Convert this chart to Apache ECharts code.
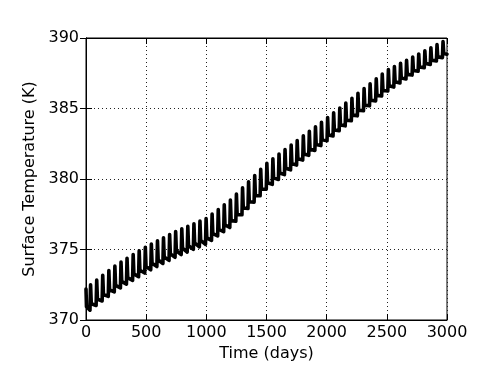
<!DOCTYPE html>
<html>
<head>
<meta charset="utf-8">
<script src="https://cdn.jsdelivr.net/npm/echarts@6/dist/echarts.min.js"></script>
<style>
html,body{margin:0;padding:0;background:#fff;}
#chart{width:498px;height:379px;}
</style>
</head>
<body>
<div id="chart"></div>
<script>
// ---- data ----
const xTicks = [0, 500, 1000, 1500, 2000, 2500, 3000];
const yTicks = [370, 375, 380, 385, 390];
const xTitle = "Time (days)";
const yTitle = "Surface Temperature (K)";

// start of the record (decaying from a previous peak)
const startDays = [0, 4];
const startTemps = [372.2, 370.95];

// day of each temperature spike
const peakDays = [38, 89, 139, 190, 240, 291, 341, 392, 442, 493,
  543, 594, 644, 695, 745, 796, 846, 897, 947, 998,
  1048, 1099, 1149, 1200, 1250, 1301, 1351, 1402, 1452, 1503,
  1553, 1604, 1654, 1705, 1755, 1806, 1856, 1907, 1957, 2008,
  2058, 2109, 2159, 2210, 2260, 2311, 2361, 2412, 2462, 2513,
  2563, 2614, 2664, 2715, 2765, 2816, 2866, 2917, 2967];
// spike maxima (K)
const peakTemps = [372.50, 372.84, 373.17, 373.50, 373.83, 374.11, 374.37, 374.64, 374.90, 375.16,
  375.39, 375.61, 375.83, 376.06, 376.28, 376.47, 376.65, 376.83, 377.01, 377.19,
  377.51, 377.84, 378.17, 378.50, 378.93, 379.38, 379.81, 380.25, 380.69, 381.12,
  381.44, 381.77, 382.09, 382.41, 382.73, 383.06, 383.38, 383.70, 384.02, 384.35,
  384.69, 385.04, 385.38, 385.73, 386.07, 386.41, 386.75, 387.10, 387.44, 387.76,
  387.98, 388.20, 388.42, 388.65, 388.87, 389.09, 389.31, 389.53, 389.75];
// minima just before each spike (K)
const minTemps = [370.70, 371.03, 371.35, 371.68, 372.00, 372.28, 372.54, 372.81, 373.07, 373.33,
  373.56, 373.79, 374.01, 374.23, 374.45, 374.64, 374.82, 375.01, 375.19, 375.37,
  375.65, 375.96, 376.26, 376.56, 377.00, 377.46, 377.91, 378.36, 378.81, 379.27,
  379.62, 379.97, 380.31, 380.65, 380.99, 381.34, 381.68, 382.03, 382.37, 382.71,
  383.06, 383.42, 383.77, 384.13, 384.48, 384.84, 385.19, 385.54, 385.89, 386.24,
  386.52, 386.81, 387.09, 387.37, 387.64, 387.89, 388.13, 388.37, 388.61];
// values shortly after each spike, once the fast cooling is over (K)
const kneeTemps = [371.15, 371.48, 371.81, 372.14, 372.46, 372.74, 373.00, 373.27, 373.53, 373.79,
  374.02, 374.25, 374.47, 374.69, 374.91, 375.10, 375.28, 375.47, 375.65, 375.83,
  376.12, 376.43, 376.74, 377.05, 377.48, 377.94, 378.39, 378.83, 379.28, 379.73,
  380.08, 380.42, 380.76, 381.09, 381.43, 381.77, 382.11, 382.45, 382.78, 383.12,
  383.47, 383.83, 384.17, 384.53, 384.88, 385.23, 385.58, 385.93, 386.28, 386.62,
  386.89, 387.16, 387.42, 387.69, 387.95, 388.19, 388.43, 388.66, 388.90];
const riseDays = 5;   // days from minimum to spike
const fallDays = 6;   // days from spike to knee
const endDay = 3000;
const endTemp = 388.85;

// ---- build series ----
const data = [];
startDays.forEach((d, i) => data.push([d, startTemps[i]]));
peakDays.forEach((d, k) => {
  data.push([d - riseDays, minTemps[k]]);
  data.push([d, peakTemps[k]]);
  data.push([d + fallDays, kneeTemps[k]]);
});
data.push([endDay, endTemp]);

const FONT = "DejaVu Sans";
const chart = echarts.init(document.getElementById('chart'), null, {renderer: 'canvas'});
const gridDash = {color: '#222', width: 1, type: [1, 3]};
const plain = v => String(v);
chart.setOption({
  animation: false,
  backgroundColor: '#fff',
  grid: {left: 86, right: 51, top: 38, bottom: 59, show: true, borderColor: '#000', borderWidth: 1, backgroundColor: 'transparent'},
  xAxis: [{
    type: 'value', min: xTicks[0], max: xTicks[xTicks.length - 1], interval: xTicks[1] - xTicks[0],
    position: 'bottom',
    name: xTitle, nameLocation: 'middle', nameGap: 26,
    nameTextStyle: {fontFamily: FONT, fontSize: 16, color: '#000'},
    axisLine: {show: true, lineStyle: {color: '#000', width: 1}},
    axisTick: {show: true, inside: true, length: 6, lineStyle: {color: '#000', width: 1}},
    axisLabel: {fontFamily: FONT, fontSize: 16, color: '#000', margin: 5, formatter: plain},
    splitLine: {show: true, lineStyle: gridDash}
  }, {
    type: 'value', min: xTicks[0], max: xTicks[xTicks.length - 1], interval: xTicks[1] - xTicks[0],
    position: 'top',
    axisLine: {show: true, lineStyle: {color: '#000', width: 1}},
    axisTick: {show: true, inside: true, length: 6, lineStyle: {color: '#000', width: 1}},
    axisLabel: {show: false},
    splitLine: {show: false}
  }],
  yAxis: [{
    type: 'value', min: yTicks[0], max: yTicks[yTicks.length - 1], interval: yTicks[1] - yTicks[0],
    position: 'left',
    name: yTitle, nameLocation: 'middle', nameGap: 37,
    nameTextStyle: {fontFamily: FONT, fontSize: 16, color: '#000'},
    axisLine: {show: true, lineStyle: {color: '#000', width: 1}},
    axisTick: {show: true, inside: true, length: 6, lineStyle: {color: '#000', width: 1}},
    axisLabel: {fontFamily: FONT, fontSize: 16, color: '#000', margin: 7, formatter: plain},
    splitLine: {show: true, lineStyle: gridDash}
  }, {
    type: 'value', min: yTicks[0], max: yTicks[yTicks.length - 1], interval: yTicks[1] - yTicks[0],
    position: 'right',
    axisLine: {show: true, lineStyle: {color: '#000', width: 1}},
    axisTick: {show: true, inside: true, length: 6, lineStyle: {color: '#000', width: 1}},
    axisLabel: {show: false},
    splitLine: {show: false}
  }],
  series: [{
    type: 'line',
    xAxisIndex: 0, yAxisIndex: 0,
    data: data,
    showSymbol: false,
    clip: true,
    lineStyle: {color: '#000', width: 3.6, join: 'round', cap: 'round'}
  }]
});
</script>
</body>
</html>
